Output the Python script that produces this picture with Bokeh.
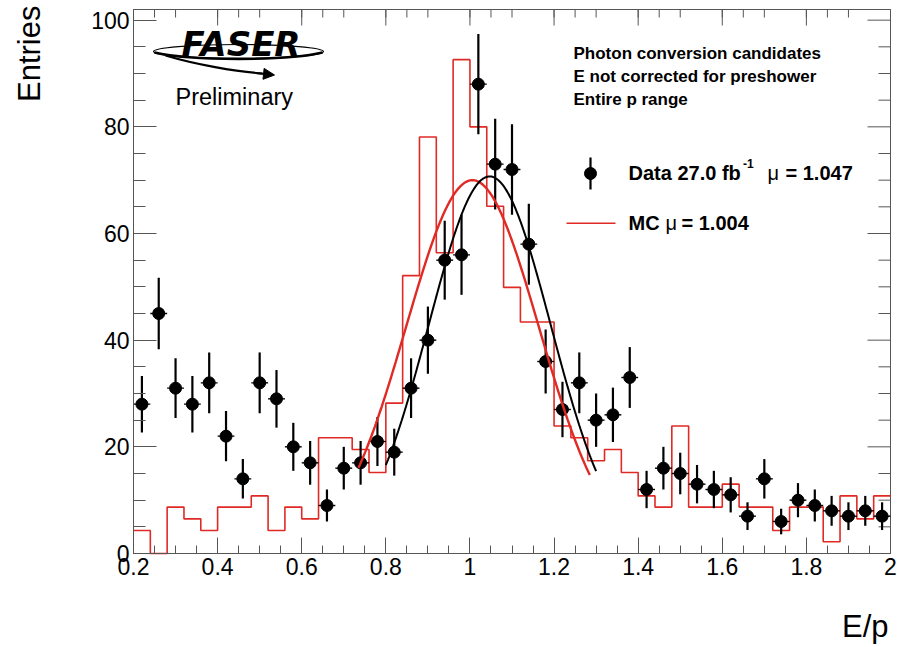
import numpy as np
from math import pi
from bokeh.plotting import figure
from bokeh.models import (Label, SingleIntervalTicker, LinearAxis, CustomJSTickFormatter,
                          Arrow, NormalHead, Range1d)
from bokeh.embed import file_html
from bokeh.resources import INLINE

# ---------------- data ----------------
bin_edges = [round(0.2 + 0.04 * i, 2) for i in range(46)]
bin_centers = [round(0.22 + 0.04 * i, 2) for i in range(45)]

data_counts = [28, 45, 31, 28, 32, 22, 14, 32, 29, 20, 17, 9, 16, 17, 21, 19, 31, 40, 55, 56,
               88, 73, 72, 58, 36, 27, 32, 25, 26, 33, 12, 16, 15, 13, 12, 11, 7, 14, 6, 10,
               9, 8, 7, 8, 7]
data_errors = [5.3, 6.7, 5.6, 5.3, 5.7, 4.7, 3.7, 5.7, 5.4, 4.5, 4.1, 3.0, 4.0, 4.1, 4.6, 4.4,
               5.6, 6.3, 7.4, 7.5, 9.4, 8.5, 8.5, 7.6, 6.0, 5.2, 5.7, 5.0, 5.1, 5.7, 3.5, 4.0,
               3.9, 3.6, 3.5, 3.3, 2.6, 3.7, 2.4, 3.2, 3.0, 2.8, 2.6, 2.8, 2.6]
mc_counts = [4.3, 0.0, 8.7, 6.5, 4.3, 8.7, 8.7, 10.8, 4.3, 8.7, 6.5, 21.7, 21.7, 19.5, 15.2,
             28.2, 52.1, 78.1, 56.4, 92.6, 80.0, 65.1, 49.9, 43.4, 43.4, 23.9, 21.7, 17.4,
             19.5, 15.2, 10.8, 8.7, 23.9, 8.7, 8.7, 13.0, 8.7, 8.7, 4.3, 8.7, 8.7, 2.2, 10.8,
             6.5, 10.8]

# Gaussian fit parameters: amplitude, mean, sigma, fit range
data_fit = dict(amp=70.7, mu=1.047, sigma=0.145, lo=0.80, hi=1.30)
mc_fit = dict(amp=70.0, mu=1.006, sigma=0.158, lo=0.735, hi=1.285)

# axis ranges and tick positions
x_lo, x_hi = 0.2, 2.0
y_lo, y_hi = 0, 102
x_major_ticks = [0.2, 0.4, 0.6, 0.8, 1.0, 1.2, 1.4, 1.6, 1.8, 2.0]
x_minor_ticks = [round(0.25 + 0.05 * i, 2) for i in range(35) if (i + 1) % 4 != 3]
y_major_ticks = [0, 20, 40, 60, 80, 100]
y_minor_ticks = [v for v in range(5, 101, 5) if v % 20 != 0]

header_lines = ["Photon conversion candidates", "E not corrected for preshower", "Entire p range"]
x_title = "E/p"
y_title = "Entries"

RED = "#e02a25"
FONT = "Liberation Sans"
AXC = "#555555"

# pixel geometry of the ROOT frame inside the 897x647 canvas
W, H = 897, 647
FL, FR, FT, FB = 133, 890, 9, 553
XS = (FR - FL) / (x_hi - x_lo)      # px per x unit
YS = (FB - FT) / (y_hi - y_lo)      # px per y unit


def dx(px):
    return x_lo + (px - FL) / XS


def dy(py):
    return y_lo + (FB - py) / YS


p = figure(width=W, height=H, x_range=Range1d(dx(0), dx(W)), y_range=Range1d(dy(H), dy(0)),
           output_backend="svg", toolbar_location=None,
           min_border=0, min_border_left=0, min_border_right=0, min_border_top=0, min_border_bottom=0,
           x_axis_location=None, y_axis_location=None)
p.xgrid.visible = False
p.ygrid.visible = False
p.outline_line_color = None
p.background_fill_color = "white"
p.border_fill_color = "white"

# frame box
p.quad(left=[x_lo], right=[x_hi], bottom=[y_lo], top=[y_hi], fill_alpha=0, line_color=AXC, line_width=1)

fmt = CustomJSTickFormatter(code="return (Math.round(tick*100)/100).toString();")

xax = LinearAxis(ticker=SingleIntervalTicker(interval=0.2, num_minor_ticks=4), formatter=fmt,
                 fixed_location=y_lo, bounds=(x_lo, x_hi))
xax.major_tick_in = 16
xax.major_tick_out = 0
xax.minor_tick_in = 8
xax.minor_tick_out = 0
yax = LinearAxis(ticker=SingleIntervalTicker(interval=20, num_minor_ticks=4), formatter=fmt,
                 fixed_location=x_lo, bounds=(y_lo, y_hi))
yax.major_tick_in = 23
yax.major_tick_out = 0
yax.minor_tick_in = 12
yax.minor_tick_out = 0
for ax in (xax, yax):
    ax.axis_line_color = AXC
    ax.major_tick_line_color = AXC
    ax.minor_tick_line_color = AXC
    ax.major_label_text_font = FONT
    ax.major_label_text_font_size = "23px"
    ax.major_label_text_color = "black"
    ax.major_label_standoff = 4
p.add_layout(xax, "below")
p.add_layout(yax, "left")

# mirrored ticks on top and right edges
p.segment(x0=x_major_ticks, y0=[y_hi] * len(x_major_ticks), x1=x_major_ticks,
          y1=[y_hi - 16 / YS] * len(x_major_ticks), line_color=AXC, line_width=1)
p.segment(x0=x_minor_ticks, y0=[y_hi] * len(x_minor_ticks), x1=x_minor_ticks,
          y1=[y_hi - 8 / YS] * len(x_minor_ticks), line_color=AXC, line_width=1)
p.segment(x0=[x_hi] * len(y_major_ticks), y0=y_major_ticks, x1=[x_hi - 23 / XS] * len(y_major_ticks),
          y1=y_major_ticks, line_color=AXC, line_width=1)
p.segment(x0=[x_hi] * len(y_minor_ticks), y0=y_minor_ticks, x1=[x_hi - 12 / XS] * len(y_minor_ticks),
          y1=y_minor_ticks, line_color=AXC, line_width=1)

# ---------------- MC histogram ----------------
p.step(x=bin_edges, y=mc_counts + [mc_counts[-1]], mode="after", line_color=RED, line_width=1.6)

# ---------------- data points ----------------
cen = np.array(bin_centers)
cnt = np.array(data_counts, dtype=float)
err = np.array(data_errors)
p.segment(x0=cen, y0=cnt - err, x1=cen, y1=cnt + err, line_color="black", line_width=2.2)
p.segment(x0=cen - 0.02, y0=cnt, x1=cen + 0.02, y1=cnt, line_color="black", line_width=1.4)
p.scatter(x=cen, y=cnt, size=12, marker="circle", fill_color="black", line_color="black")

# ---------------- fits ----------------
for fit, col, lw in [(mc_fit, RED, 2.4), (data_fit, "black", 2.0)]:
    xs = np.linspace(fit["lo"], fit["hi"], 200)
    ys = fit["amp"] * np.exp(-0.5 * ((xs - fit["mu"]) / fit["sigma"]) ** 2)
    p.line(xs, ys, line_color=col, line_width=lw)


# ---------------- annotations ----------------
def label(px, py, text, size, style="normal", align="left", font=FONT):
    """Place text with its visual baseline at canvas pixel (px, py)."""
    p.add_layout(Label(x=dx(px), y=dy(py - 0.38 * size), text=text, text_font=font,
                       text_font_size=f"{size}px", text_font_style=style, text_align=align,
                       text_baseline="alphabetic", text_color="black"))


# header text
for i, line in enumerate(header_lines):
    label(573, 59.5 + 22.8 * i, line, 17, "bold")

# legend: data
p.segment(x0=[dx(590)], y0=[dy(157)], x1=[dx(590)], y1=[dy(189)], line_color="black", line_width=2.2)
p.scatter(x=[dx(590)], y=[dy(173)], size=12, marker="circle", color="black")
label(628, 180, "Data 27.0 fb", 20, "bold")
label(742.5, 168, "-1", 12, "bold")
label(767, 180, "\u03bc", 20, "normal")
label(785, 180, "= 1.047", 20, "bold")

# legend: MC
p.line(x=[dx(566), dx(615)], y=[dy(222.7), dy(222.7)], line_color=RED, line_width=1.6)
label(628, 230, "MC", 20, "bold")
label(665, 230, "\u03bc", 20, "normal")
label(681, 230, "= 1.004", 20, "bold")

# FASER logo
p.ellipse(x=[dx(238)], y=[dy(51)], width=[170 / XS], height=[14 / YS],
          fill_alpha=0, line_color="black", line_width=1.2)
p.bezier(x0=[dx(154)], y0=[dy(52)], x1=[dx(322)], y1=[dy(52)],
         cx0=[dx(190)], cy0=[dy(60.5)], cx1=[dx(286)], cy1=[dy(60.5)],
         line_color="black", line_width=2.6)
p.bezier(x0=[dx(165)], y0=[dy(55)], x1=[dx(262)], y1=[dy(73)],
         cx0=[dx(195)], cy0=[dy(64)], cx1=[dx(235)], cy1=[dy(71)],
         line_color="black", line_width=2.2)
p.add_layout(Arrow(end=NormalHead(size=11, fill_color="black", line_color="black"),
                   x_start=dx(255), y_start=dy(72.5), x_end=dx(274), y_end=dy(74.5),
                   line_color="black", line_width=2))
label(181, 56.5, "FASER", 34, "bold italic", font="DejaVu Sans")
label(175, 105, "Preliminary", 23.5, "normal")

# axis titles (ROOT style: at the far end of each axis)
label(888, 638, x_title, 31, "normal", align="right")
p.add_layout(Label(x=dx(29), y=dy(5), text=y_title, text_font=FONT, text_font_size="31px",
                   text_align="right", text_baseline="middle", angle=pi / 2, text_color="black"))

open("out.html", "w").write(file_html(p, INLINE))
